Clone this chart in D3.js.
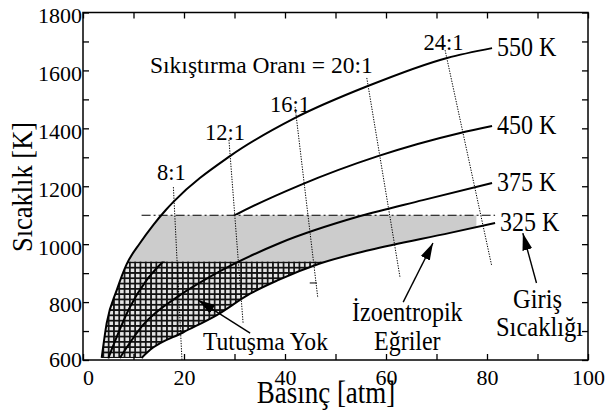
<!DOCTYPE html>
<html>
<head>
<meta charset="utf-8">
<script src="https://cdn.jsdelivr.net/npm/d3@7"></script>
<style>
body{margin:0;background:#fff}
svg{display:block}
svg text{font-family:'Liberation Serif','DejaVu Serif','Times New Roman',Times,serif !important;fill:#000}
</style>
</head>
<body>
<div id="graph"></div>
<script>
"use strict"
// isentropic curves, points are [pressure atm, temperature K]
var curveNames=["550 K","450 K","375 K","325 K"]
var c550=[[3.7,607],[4.7,728],[6.7,842],[8.65,931],[11.3,1004],[13.9,1066],[16.4,1118],[17.9,1146],[29.1,1304],[42.0,1436],[56.4,1546],[72.1,1643],[81.0,1677]]
var c450=[[5.0,606],[9.3,783],[12.6,876],[15.2,928],[22.0,1018],[30.1,1100],[43.0,1204],[58.4,1304],[74.7,1384],[81.0,1408]]
var c375=[[7.3,607],[11.9,721],[19.2,824],[25.1,887],[39.0,1004],[54.9,1097],[67.3,1152],[81.0,1211]]
var c325=[[11.6,607],[13.3,635],[19.8,695],[26.5,755],[33.1,829],[38.4,874],[46.9,933],[56.8,980],[72.7,1039],[81.6,1073]]

// compression ratio lines (dotted), top and bottom ends
var ratioNames=["8:1","12:1","16:1","20:1","24:1"]
var ratioTop=[[17.9,1197],[28.9,1360],[42.0,1474],[56.2,1574],[71.7,1670]]
var ratioBottom=[[19.6,600],[31.7,728],[46.5,814],[62.8,883],[80.9,928]]

// bands
var noIgnitionTop=940   // hatched: no ignition
var ignitionTop=1100    // dash-dot limit
var grayEndP=77.9

// axis ticks
var xMajor=[0,20,40,60,80,100]
var xMinor=[0,10,20,30,40,50,60,70,80,90,100]
var yMajor=[600,800,1000,1200,1400,1600,1800]
var yMinor=[600,700,800,900,1000,1100,1200,1300,1400,1500,1600,1700,1800]

// annotation arrows [from, to]
var arrows=[[[33.1,693],[22.8,807]],[[63.4,800],[69.3,1004]],[[89.8,866],[87.1,1038]]]
var strayMark=[[44.9,866],[46.3,866]]

var W=609,H=414
var svg=d3.select('#graph').append('svg').attr('width',W).attr('height',H)
var x=d3.scaleLinear().domain([0,100]).range([83,588])
var y=d3.scaleLinear().domain([600,1800]).range([360,12.5])

var defs=svg.append('defs')
var pat=defs.append('pattern').attr('id','hatch').attr('patternUnits','userSpaceOnUse').attr('width',5.3).attr('height',5.3)
pat.append('rect').attr('width',5.3).attr('height',5.3).attr('fill','#e4e4e4')
pat.append('path').attr('d','M0,2.65H5.3M2.65,0V5.3').attr('stroke','#111').attr('stroke-width',1.7)

defs.append('clipPath').attr('id','clipHatch').append('rect')
  .attr('x',x(0)).attr('y',y(noIgnitionTop)).attr('width',x(100)-x(0)).attr('height',y(600)-y(noIgnitionTop))
defs.append('clipPath').attr('id','clipGray').append('rect')
  .attr('x',x(0)).attr('y',y(ignitionTop)).attr('width',x(grayEndP)-x(0)).attr('height',y(noIgnitionTop)-y(ignitionTop))
var cOut=defs.append('clipPath').attr('id','clipOut')
cOut.append('rect').attr('x',0).attr('y',0).attr('width',W).attr('height',y(ignitionTop))
cOut.append('rect').attr('x',0).attr('y',y(noIgnitionTop)).attr('width',W).attr('height',H-y(noIgnitionTop))

var arrowHead=defs.append('marker').attr('id','head').attr('markerUnits','userSpaceOnUse')
  .attr('viewBox','0 -6 17 12').attr('refX',17).attr('refY',0).attr('markerWidth',17).attr('markerHeight',12).attr('orient','auto')
arrowHead.append('path').attr('d','M0,-5L17,0L0,5Z').attr('fill','#000')

var line=d3.line().x(function(d){return x(d[0])}).y(function(d){return y(d[1])}).curve(d3.curveMonotoneX)

// band between 550 K and 325 K curves
var band=line(c550)+'L'+line(c325.slice().reverse()).slice(1)+'Z'
svg.append('path').attr('d',band).attr('fill','#cccccc').attr('clip-path','url(#clipGray)')
svg.append('path').attr('d',band).attr('fill','url(#hatch)').attr('clip-path','url(#clipHatch)')

// isentropes
var curves=[c550,c450,c375,c325]
for(var i=0;i<curves.length;i++){
  var p=svg.append('path').attr('d',line(curves[i])).attr('fill','none').attr('stroke','#000').attr('stroke-width',2)
  if(i==1) p.attr('clip-path','url(#clipOut)')
  var e=curves[i][curves[i].length-1]
  svg.append('g').attr('transform','translate('+(x(e[0])+5)+','+(y(e[1])+7.5)+') scale(1,1.13)')
    .append('text').attr('font-size',24).text(curveNames[i])
}

// 1100 K dash-dot limit
svg.append('line').attr('x1',x(11.6)).attr('x2',x(81.6)).attr('y1',y(ignitionTop)).attr('y2',y(ignitionTop))
  .attr('stroke','#000').attr('stroke-width',1.1).attr('stroke-dasharray','9,3,2,3')

// compression ratio lines
var ratioLab=[[-2,-7],[-4,0],[-5,5],[0,0],[-1.5,0]]
for(i=0;i<ratioNames.length;i++){
  svg.append('line').attr('x1',x(ratioTop[i][0])).attr('y1',y(ratioTop[i][1])).attr('x2',x(ratioBottom[i][0])).attr('y2',y(ratioBottom[i][1]))
    .attr('stroke','#000').attr('stroke-width',1).attr('stroke-dasharray','1.3,1.3')
  if(i==3) continue
  svg.append('text').attr('x',x(ratioTop[i][0])+ratioLab[i][0]).attr('y',y(ratioTop[i][1])+ratioLab[i][1])
    .attr('text-anchor','middle').attr('font-size',22.5).text(ratioNames[i])
}
svg.append('text').attr('x',150).attr('y',73).attr('font-size',23.5).text('Sıkıştırma Oranı = '+ratioNames[3])
svg.append('line').attr('x1',x(strayMark[0][0])).attr('x2',x(strayMark[1][0])).attr('y1',y(strayMark[0][1])).attr('y2',y(strayMark[1][1]))
  .attr('stroke','#000').attr('stroke-width',1)

// arrows
for(i=0;i<arrows.length;i++)
  svg.append('line').attr('x1',x(arrows[i][0][0])).attr('y1',y(arrows[i][0][1])).attr('x2',x(arrows[i][1][0])).attr('y2',y(arrows[i][1][1]))
    .attr('stroke','#000').attr('stroke-width',1.4).attr('marker-end','url(#head)')

// annotation texts
function label(px,py,t,s,k){
  svg.append('g').attr('transform','translate('+px+','+py+') scale(1,'+k+')')
    .append('text').attr('font-size',s).text(t)
}
label(203,350,'Tutuşma Yok',23.6,1.06)
label(352,321,'İzoentropik',24,1.1)
label(374,350,'Eğriler',24,1.1)
label(513,308,'Giriş',24.5,1.1)
label(496,336,'Sıcaklığı',24.5,1.1)

// axes, ticks pointing inward
function fmt(step){return function(d){return d%step===0?d:''}}
var ax=svg.append('g').attr('transform','translate(0,'+y(600)+')')
  .call(d3.axisBottom(x).tickValues(xMinor).tickSize(-6).tickPadding(9).tickFormat(fmt(20)))
svg.append('g').attr('transform','translate(0,'+y(1800)+')')
  .call(d3.axisTop(x).tickValues(xMinor).tickSize(-6).tickFormat(''))
var ay=svg.append('g').attr('transform','translate('+x(0)+',0)')
  .call(d3.axisLeft(y).tickValues(yMinor).tickSize(-6).tickPadding(1).tickFormat(fmt(200)))
svg.append('g').attr('transform','translate('+x(100)+',0)')
  .call(d3.axisRight(y).tickValues(yMinor).tickSize(-6).tickFormat(''))
svg.selectAll('.domain').remove()
svg.selectAll('.tick line').attr('stroke','#000').attr('stroke-width',1.3)
ax.selectAll('text').attr('font-size',22)
ax.selectAll('text').filter(function(d){return d===0}).attr('dx',5)
ay.selectAll('text').attr('font-size',22).attr('dy','0.45em')
ay.selectAll('text').filter(function(d){return d===600}).attr('dy','0.3em')

svg.append('rect').attr('x',x(0)).attr('y',y(1800)).attr('width',x(100)-x(0)).attr('height',y(600)-y(1800))
  .attr('fill','none').attr('stroke','#000').attr('stroke-width',1.5)

// axis titles
svg.append('g').attr('transform','translate(326,403) scale(1,1.18)')
  .append('text').attr('text-anchor','middle').attr('font-size',27).text('Basınç [atm]')
svg.append('g').attr('transform','translate(32,187) rotate(-90) scale(1,1.1)')
  .append('text').attr('text-anchor','middle').attr('font-size',26.5).text('Sıcaklık [K]')
</script>
</body>
</html>
